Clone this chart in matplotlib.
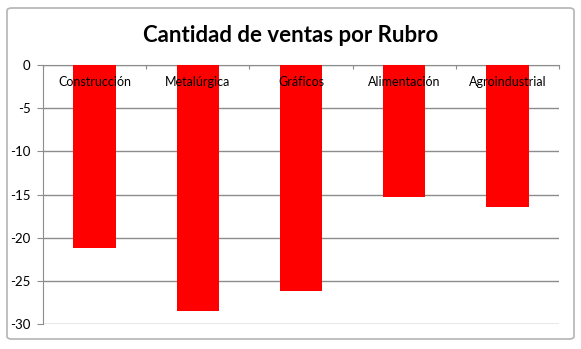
import matplotlib.pyplot as plt
from matplotlib.patches import FancyBboxPatch
import numpy as np

plt.rcParams['font.family'] = ['Lato', 'DejaVu Sans']

# datos
rubros = ["Construcción", "Metalúrgica", "Gráficos", "Alimentación", "Agroindustrial"]
ventas = [-21.2, -28.5, -26.15, -15.25, -16.4]
yticks = [0, -5, -10, -15, -20, -25, -30]

W, H = 581, 349
fig = plt.figure(figsize=(W / 100, H / 100), dpi=100)

# marco exterior redondeado
marco = FancyBboxPatch((7 / W, 10 / H), 567 / W, 331 / H,
                       boxstyle="round,pad=0,rounding_size=0.008",
                       transform=fig.transFigure, fill=False,
                       edgecolor="#b4b4b4", linewidth=1.2)
fig.patches.append(marco)

fig.text(0.5, 1 - 35 / H, "Cantidad de ventas por Rubro", ha="center", va="center",
         fontsize=16, fontweight="bold")

ax = fig.add_axes([43 / W, (H - 324) / H, (559 - 43) / W, (324 - 65) / H])
x = np.arange(len(rubros))
ax.bar(x, ventas, width=0.41, color="#ff0000", zorder=3)

ax.set_xlim(-0.5, len(rubros) - 0.5)
ax.set_ylim(-30, 0)
ax.set_yticks(yticks)
ax.set_yticklabels([str(v) for v in yticks], fontsize=9.5)
ax.yaxis.grid(True, color="#8c8c8c", linewidth=1, zorder=0)
ax.tick_params(axis="y", length=4, color="#8c8c8c", pad=5)

ax.xaxis.tick_top()
ax.set_xticks(np.arange(-0.5, len(rubros), 1.0))
ax.set_xticklabels([])
ax.tick_params(axis="x", length=3, direction="in", color="#8c8c8c")

for s in ["right", "bottom"]:
    ax.spines[s].set_visible(False)
for s in ["left", "top"]:
    ax.spines[s].set_color("#8c8c8c")

for i, r in enumerate(rubros):
    ax.text(i, -2.0, r, ha="center", va="center", fontsize=9, zorder=4)

fig.savefig("out.png", dpi=100)
